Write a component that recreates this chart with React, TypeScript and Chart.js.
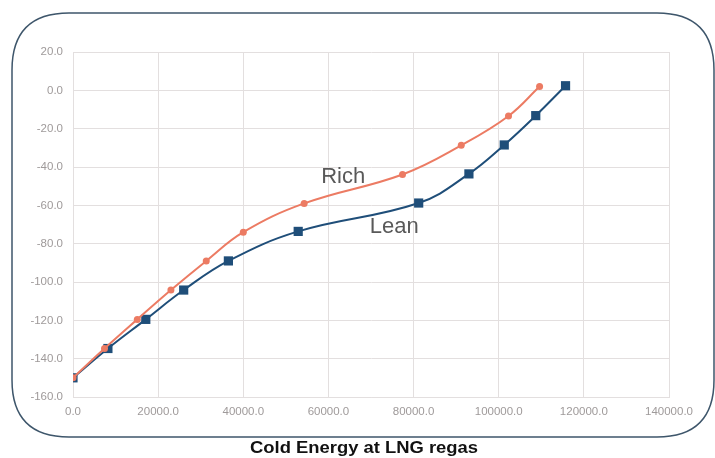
import React, { useEffect, useRef } from "react";
import { Chart, registerables } from "chart.js";

Chart.register(...registerables);

const richX = [0, 7400, 15100, 23000, 31300, 40000, 54300, 77400, 91200, 102300, 109600];
const richY = [-150, -134.7, -119.5, -104.2, -89.0, -74.0, -59.0, -43.9, -28.7, -13.4, 2.0];
const leanX = [0, 8200, 17100, 26000, 36500, 52900, 81200, 93000, 101300, 108700, 115700];
const leanY = [-150, -134.7, -119.5, -104.2, -89.0, -73.6, -58.8, -43.6, -28.5, -13.2, 2.4];

const seriesNames = ["Rich", "Lean"];
const labelAnchors = [
  { x: 58300, y: -48.3 },
  { x: 69700, y: -74.4 },
];
const axisTitle = "Cold Energy at LNG regas";

const fmt = (v: number | string) => Number(v).toFixed(1);

const decorPlugin = {
  id: "decor",
  afterDraw(chart: any) {
    const ctx = chart.ctx as CanvasRenderingContext2D;
    const xs = chart.scales.x;
    const ys = chart.scales.y;
    ctx.save();
    // rounded frame
    const l = 12, t = 13, r = 714, b = 437, rad = 57;
    ctx.beginPath();
    ctx.moveTo(l + rad, t);
    ctx.lineTo(r - rad, t);
    ctx.quadraticCurveTo(r, t, r, t + rad);
    ctx.lineTo(r, b - rad);
    ctx.quadraticCurveTo(r, b, r - rad, b);
    ctx.lineTo(l + rad, b);
    ctx.quadraticCurveTo(l, b, l, b - rad);
    ctx.lineTo(l, t + rad);
    ctx.quadraticCurveTo(l, t, l + rad, t);
    ctx.closePath();
    ctx.lineWidth = 1.5;
    ctx.strokeStyle = "#3e566b";
    ctx.stroke();

    // series labels
    ctx.fillStyle = "#595959";
    ctx.font = "22px 'Liberation Sans', Arial, sans-serif";
    ctx.textAlign = "left";
    ctx.textBaseline = "alphabetic";
    seriesNames.forEach((name, i) => {
      const a = labelAnchors[i];
      ctx.fillText(name, xs.getPixelForValue(a.x), ys.getPixelForValue(a.y));
    });

    // axis title
    ctx.fillStyle = "#111111";
    ctx.font = "bold 16px 'Liberation Sans', Arial, sans-serif";
    ctx.textAlign = "center";
    ctx.translate(364, 453);
    ctx.scale(1.15, 1);
    ctx.fillText(axisTitle, 0, 0);
    ctx.restore();
  },
};

export default function App() {
  const ref = useRef<HTMLCanvasElement>(null);
  useEffect(() => {
    if (!ref.current) return;
    const chart = new Chart(ref.current, {
      type: "line",
      data: {
        datasets: [
          {
            label: seriesNames[0],
            data: richX.map((x, i) => ({ x, y: richY[i] })),
            borderColor: "#ec7b63",
            backgroundColor: "#ec7b63",
            borderWidth: 2,
            pointStyle: "circle",
            pointRadius: 3.5,
            pointBorderWidth: 0,
            tension: 0.4,
          },
          {
            label: seriesNames[1],
            data: leanX.map((x, i) => ({ x, y: leanY[i] })),
            borderColor: "#1f4e79",
            backgroundColor: "#1f4e79",
            borderWidth: 2,
            pointStyle: "rect",
            pointRadius: 6.5,
            pointBorderWidth: 0,
            tension: 0.4,
          },
        ],
      },
      options: {
        responsive: false,
        animation: false,
        layout: { padding: { top: 52, right: 46, bottom: 0, left: 0 } },
        plugins: { legend: { display: false }, tooltip: { enabled: false } },
        scales: {
          x: {
            type: "linear",
            min: 0,
            max: 140000,
            afterFit: (s: any) => {
              s.height = 61;
            },
            grid: { color: "#e3dfdf", drawTicks: false },
            border: { color: "#e3dfdf" },
            ticks: {
              stepSize: 20000,
              padding: 8,
              color: "#9f9a9a",
              font: { size: 11.5, family: "'Liberation Sans', Arial, sans-serif" },
              callback: (v: any) => fmt(v),
              maxRotation: 0,
            },
          },
          y: {
            type: "linear",
            min: -160,
            max: 20,
            afterFit: (s: any) => {
              s.width = 73;
            },
            grid: { color: "#e3dfdf", drawTicks: false },
            border: { color: "#e3dfdf" },
            ticks: {
              stepSize: 20,
              padding: 10,
              color: "#9f9a9a",
              font: { size: 11.5, family: "'Liberation Sans', Arial, sans-serif" },
              callback: (v: any) => fmt(v),
            },
          },
        },
      },
      plugins: [decorPlugin],
    } as any);
    return () => chart.destroy();
  }, []);
  return (
    <div style={{ position: "absolute", left: 0, top: 0, width: 715, height: 458, background: "#ffffff" }}>
      <canvas ref={ref} width={715} height={458} style={{ display: "block" }} />
    </div>
  );
}
